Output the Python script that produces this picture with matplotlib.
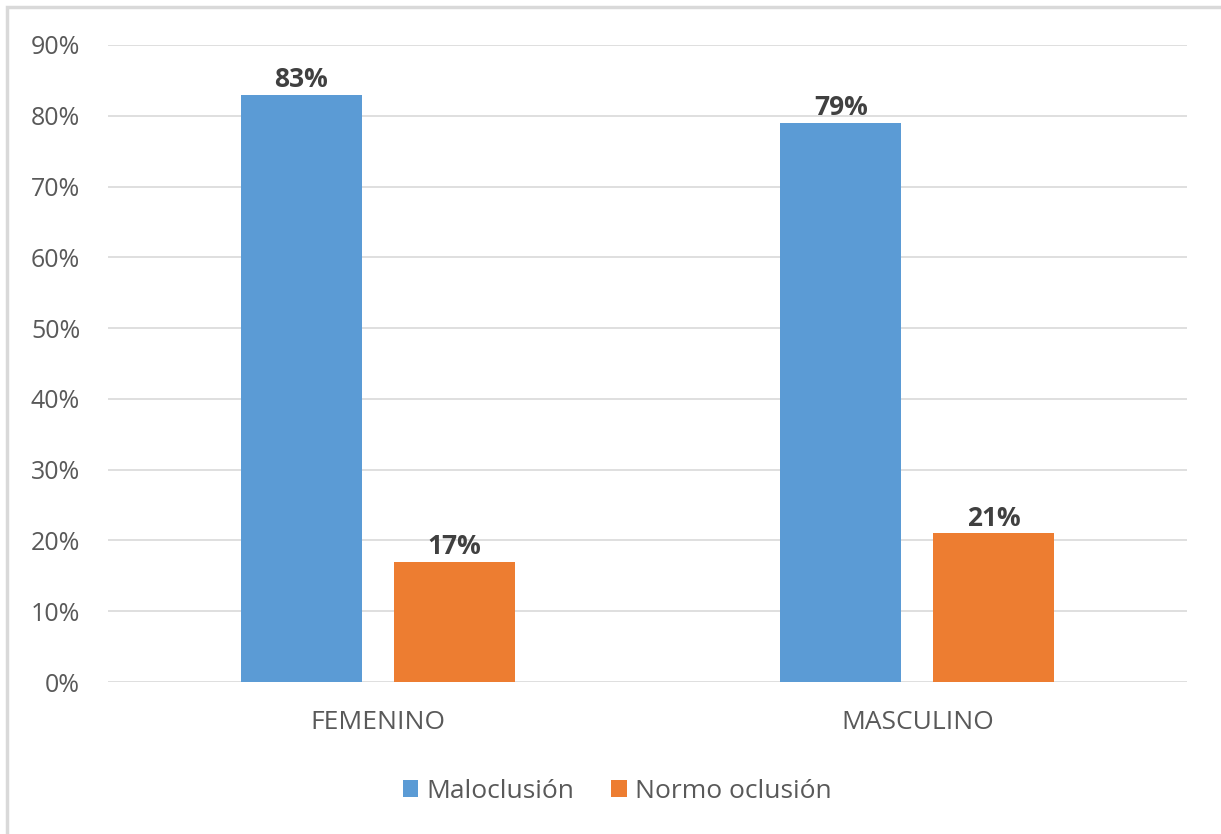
import matplotlib
matplotlib.use("Agg")
import matplotlib.pyplot as plt
import numpy as np
from matplotlib.patches import Rectangle
from matplotlib.ticker import FuncFormatter

categories = ["FEMENINO", "MASCULINO"]
series_names = ["Maloclusión", "Normo oclusión"]
maloclusion = [83, 79]
normo_oclusion = [17, 21]
y_ticks = [0, 10, 20, 30, 40, 50, 60, 70, 80, 90]

plt.rcParams["font.family"] = ["Open Sans", "DejaVu Sans"]

W, H = 1221, 834
fig = plt.figure(figsize=(W / 100, H / 100), dpi=100)
ax = fig.add_axes([108 / W, 1 - 682 / H, (1187 - 108) / W, (682 - 45) / H])

blue = "#5B9BD5"
orange = "#ED7D31"
text_gray = "#595959"

x = np.arange(len(categories))
width = 0.224
offset = 0.142
b1 = ax.bar(x - offset, maloclusion, width, color=blue, label=series_names[0], zorder=3)
b2 = ax.bar(x + offset, normo_oclusion, width, color=orange, label=series_names[1], zorder=3)

for bars, vals in ((b1, maloclusion), (b2, normo_oclusion)):
    for rect, v in zip(bars, vals):
        ax.text(rect.get_x() + rect.get_width() / 2, v + 0.2, f"{v}%",
                ha="center", va="bottom", fontsize=19, fontweight="bold",
                color="#404040", zorder=4)

ax.set_xlim(-0.5, 1.5)
ax.set_ylim(0, 90)
ax.set_yticks(y_ticks)
ax.yaxis.set_major_formatter(FuncFormatter(lambda v, p: f"{int(v)}%"))
ax.set_xticks(x)
ax.set_xticklabels(categories)
ax.tick_params(axis="y", length=0, labelsize=18, colors=text_gray, pad=20)
ax.tick_params(axis="x", length=0, labelsize=19, colors=text_gray, pad=20)
ax.grid(axis="y", color="#D9D9D9", linewidth=1.2, zorder=0)
for s in ax.spines.values():
    s.set_visible(False)

leg = fig.legend(handles=[b1, b2], labels=series_names, loc="center",
                 bbox_to_anchor=(617 / W, 1 - 791 / H), ncol=2, frameon=False,
                 fontsize=19, handlelength=0.6, handleheight=0.6,
                 handletextpad=0.3, columnspacing=1.4)
for t in leg.get_texts():
    t.set_color(text_gray)

# outer chart border
fig.patches.append(Rectangle((7 / W, -0.1), 1.2, 1 - 7 / H + 0.1,
                             transform=fig.transFigure, fill=False,
                             edgecolor="#D9D9D9", linewidth=2.5))

fig.savefig("out.png", dpi=100)
